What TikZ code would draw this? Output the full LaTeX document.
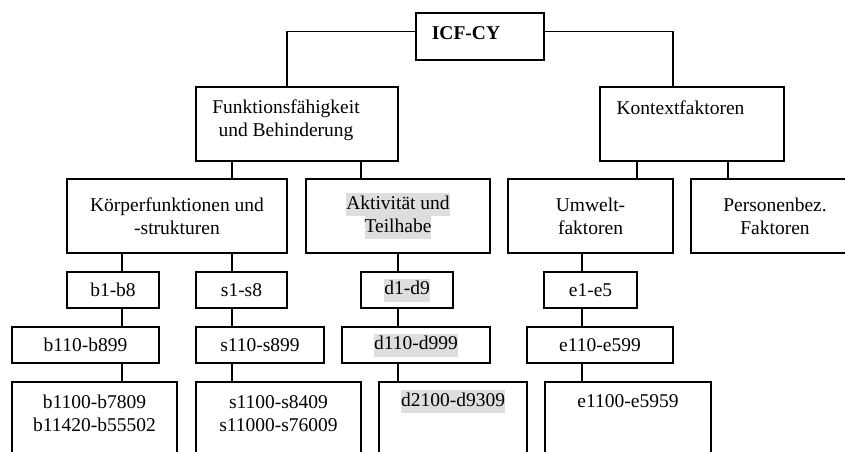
\documentclass[tikz,border=0pt]{standalone}
\usepackage{fontspec}
\setmainfont{Liberation Serif}
\usetikzlibrary{positioning}
\definecolor{hlgray}{gray}{0.87}
\newcommand{\hl}[1]{{\setlength{\fboxsep}{0pt}\colorbox{hlgray}{\strut #1}}}

\begin{document}
\begin{tikzpicture}[x=1pt, y=-1pt, line width=1.1pt,
    every node/.style={font=\fontsize{19.5}{23}\selectfont},
    box/.style={draw, rectangle, inner sep=0pt, align=center},
    lbl/.style={inner sep=0pt, align=center},
    hd/.style={lbl, font=\fontsize{19.5}{23}\selectfont\bfseries}]
    \useasboundingbox (0,0) rectangle (845,451);

    % top levels
    \node[box, minimum width=128pt, minimum height=47pt] (ICF) at (480,36.5) {};
    \node[hd] (ICFt) at (466,33) {ICF-CY};
    \node[box, minimum width=202pt, minimum height=74pt] (FB) at (297,124) {};
    \node[lbl] (FBt) at (286,120) {Funktionsfähigkeit\\und Behinderung};
    \node[box, minimum width=184pt, minimum height=74pt] (KF) at (692,124) {};
    \node[lbl] (KFt) at (680.5,108) {Kontextfaktoren};

    % components
    \node[box, minimum width=220pt, minimum height=74pt] (KS) at (177,216) {Körperfunktionen und\\-strukturen};
    \node[box, minimum width=184pt, minimum height=74pt] (AT) at (398,216) {\hl{Aktivität und}\\\hl{Teilhabe}};
    \node[box, minimum width=165pt, minimum height=74pt] (UF) at (590.5,216) {Umwelt-\\faktoren};
    \node[box, minimum width=168pt, minimum height=74pt] (PF) at (775,216) {Personenbez.\\Faktoren};

    % chapters
    \node[box, minimum width=92pt, minimum height=36pt] (b1) at (113,290) {b1-b8};
    \node[box, minimum width=91pt, minimum height=36pt] (s1) at (241.5,290) {s1-s8};
    \node[box, minimum width=92pt, minimum height=36pt] (d1) at (407,290) {\hl{d1-d9}};
    \node[box, minimum width=93pt, minimum height=36pt] (e1) at (590.5,290) {e1-e5};

    % second level
    \node[box, minimum width=147pt, minimum height=36pt] (b110) at (85.5,345) {b110-b899};
    \node[box, minimum width=128pt, minimum height=36pt] (s110) at (260,345) {s110-s899};
    \node[box, minimum width=148pt, minimum height=36pt] (d110) at (416,345) {\hl{d110-d999}};
    \node[box, minimum width=146pt, minimum height=36pt] (e110) at (600,345) {e110-e599};

    % third/fourth level
    \node[box, minimum width=165pt, minimum height=88pt] (b1100) at (94.5,426) {};
    \node[box, minimum width=165pt, minimum height=88pt] (s1100) at (278.5,426) {};
    \node[box, minimum width=148pt, minimum height=88pt] (d2100) at (453,426) {};
    \node[box, minimum width=166pt, minimum height=88pt] (e1100) at (628,426) {};
    \node[lbl] (b1100t) at ([yshift=-32pt]b1100.north) {b1100-b7809\\b11420-b55502};
    \node[lbl] (s1100t) at ([yshift=-32pt]s1100.north) {s1100-s8409\\s11000-s76009};
    \node[lbl] (d2100t) at ([yshift=-20pt]d2100.north) {\hl{d2100-d9309}};
    \node[lbl] (e1100t) at ([yshift=-20pt]e1100.north) {e1100-e5959};

    \coordinate (bcol) at (122,0);
    \coordinate (scol) at (232,0);
    \coordinate (acol) at (361,0);
    \coordinate (ecol) at (582,0);
    \coordinate (ucol) at (637,0);
    \coordinate (pcol) at (728,0);

    \draw ([yshift=5pt]ICF.west) -| ([xshift=-10pt]FB.north);
    \draw ([yshift=5pt]ICF.east) -| ([xshift=-19pt]KF.north);
    \draw (FB.south -| scol) -- (KS.north -| scol)
          (FB.south -| acol) -- (AT.north -| acol)
          (KF.south -| ucol) -- (UF.north -| ucol)
          (KF.south -| pcol) -- (PF.north -| pcol)
          (KS.south -| bcol) -- (b1.north -| bcol)
          (b1.south -| bcol) -- (b110.north -| bcol)
          (b110.south -| bcol) -- (b1100.north -| bcol)
          (KS.south -| scol) -- (s1.north -| scol)
          (s1.south -| scol) -- (s110.north -| scol)
          (s110.south -| scol) -- (s1100.north -| scol)
          (AT.south) -- (d1.north -| AT.south)
          (d1.south -| AT.south) -- (d110.north -| AT.south)
          (d110.south -| AT.south) -- (d2100.north -| AT.south)
          (UF.south -| ecol) -- (e1.north -| ecol)
          (e1.south -| ecol) -- (e110.north -| ecol)
          (e110.south -| ecol) -- (e1100.north -| ecol);
\end{tikzpicture}
\end{document}
